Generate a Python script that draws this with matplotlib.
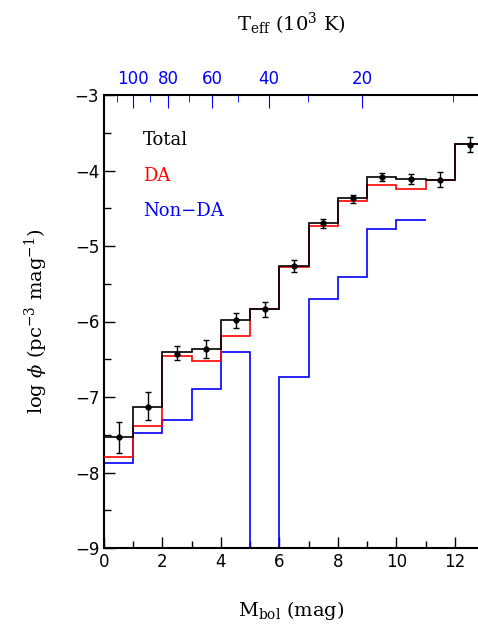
import numpy as np
import matplotlib
matplotlib.use("Agg")
import matplotlib.pyplot as plt
from matplotlib.ticker import MultipleLocator

plt.rcParams["mathtext.fontset"] = "dejavuserif"

# luminosity function bins (M_bol, 1 mag wide)
edges_all = np.arange(0, 14)
total = [-7.53, -7.13, -6.40, -6.37, -5.98, -5.84, -5.26, -4.70, -4.37, -4.09, -4.11, -4.12, -3.65]
da = [-7.80, -7.38, -6.46, -6.52, -6.19, -5.84, -5.28, -4.74, -4.41, -4.19, -4.25, -4.12, -3.65]
non_da = [-7.88, -7.48, -7.30, -6.90, -6.41, np.nan, -6.74, -5.70, -5.41, -4.77, -4.66]

pt_x = np.arange(0.5, 13, 1.0)
pt_y = [-7.53, -7.13, -6.43, -6.37, -5.98, -5.84, -5.26, -4.70, -4.37, -4.09, -4.11, -4.12, -3.66]
err_lo = [0.21, 0.18, 0.08, 0.12, 0.10, 0.10, 0.08, 0.06, 0.06, 0.05, 0.07, 0.10, 0.10]
err_hi = [0.20, 0.20, 0.11, 0.12, 0.09, 0.10, 0.07, 0.06, 0.05, 0.06, 0.07, 0.10, 0.11]

# top axis: Teff (10^3 K) ticks and their M_bol positions
teff_major = ["100", "80", "60", "40", "20"]
teff_major_pos = [0.99, 2.19, 3.69, 5.64, 8.82]
teff_minor_pos = [0.44, 1.57, 2.90, 4.58, 6.97, 11.93]

serif = "DejaVu Serif"

fig = plt.figure(figsize=(4.78, 6.26), dpi=100)
ax = fig.add_axes([104 / 478, 78 / 626, 374 / 478, 453 / 626])

ax.stairs(total, edges_all, color="black", lw=1.2, baseline=None, zorder=4)
ax.stairs(da, edges_all, color="red", lw=1.2, baseline=None, zorder=3)
ax.stairs(np.nan_to_num(non_da, nan=-20), edges_all[:len(non_da) + 1], color="blue",
          lw=1.2, baseline=None, zorder=2)
ax.errorbar(pt_x, pt_y, yerr=[err_lo, err_hi], fmt="o", color="black", ms=3.5,
            elinewidth=1.0, capsize=2.5, capthick=1.0, zorder=5)

ax.set_xlim(0, 12.79)
ax.set_ylim(-9, -3)
ax.xaxis.set_major_locator(MultipleLocator(2))
ax.xaxis.set_minor_locator(MultipleLocator(1))
ax.yaxis.set_major_locator(MultipleLocator(1))
ax.yaxis.set_minor_locator(MultipleLocator(0.5))
ax.tick_params(which="both", direction="in", top=False, right=False, labelsize=12, width=1)
ax.tick_params(which="major", length=8)
ax.tick_params(which="minor", length=5)
ax.set_yticklabels([f"\u2212{abs(int(v))}" for v in ax.get_yticks()])
for s in ["left", "bottom", "top"]:
    ax.spines[s].set_linewidth(1.5)
ax.spines["right"].set_visible(False)

ax.set_xlabel(r"M$_{\rm bol}$ (mag)", fontsize=14, family=serif, labelpad=20)
ax.set_ylabel(r"log $\phi$ (pc$^{-3}$ mag$^{-1}$)", fontsize=14, family=serif, labelpad=18)

ax.text(1.33, -3.6, "Total", color="black", fontsize=13, family=serif, va="center")
ax.text(1.33, -4.07, "DA", color="red", fontsize=13, family=serif, va="center")
ax.text(1.33, -4.54, "Non\u2212DA", color="blue", fontsize=13, family=serif, va="center")

top = ax.twiny()
top.set_xlim(ax.get_xlim())
top.set_xticks(teff_major_pos)
top.set_xticklabels(teff_major)
top.set_xticks(teff_minor_pos, minor=True)
top.tick_params(which="both", direction="in", colors="blue", labelsize=12, pad=5)
top.tick_params(which="major", length=9)
top.tick_params(which="minor", length=5)
for s in top.spines.values():
    s.set_visible(False)
top.set_xlabel(r"T$_{\rm eff}$ (10$^3$ K)", fontsize=14, family=serif, labelpad=28)

fig.savefig("out.png", dpi=100)
